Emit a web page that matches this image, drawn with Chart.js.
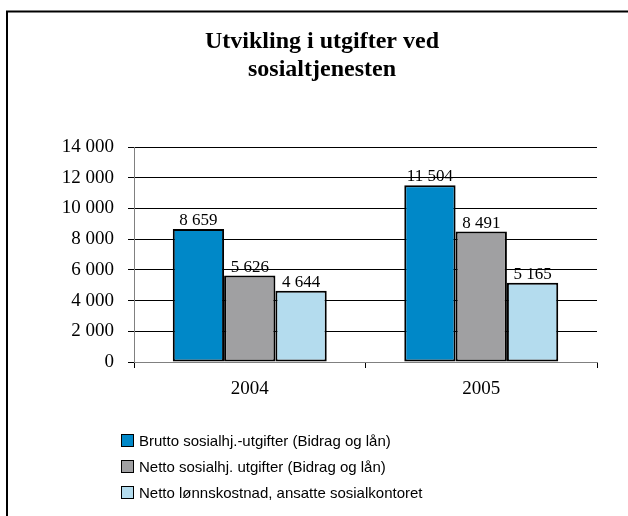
<!DOCTYPE html>
<html>
<head>
<meta charset="utf-8">
<script src="https://cdn.jsdelivr.net/npm/chart.js@4"></script>
<style>
  html, body { margin: 0; padding: 0; background: #fff; }
  #wrap { width: 628px; height: 516px; position: relative; }
</style>
</head>
<body>
<div id="wrap"><canvas id="chart" width="628" height="516"></canvas></div>
<script>
// Utgifter sosialtjenesten (1000 kr)
const years = ['2004', '2005'];
const seriesNames = [
    'Brutto sosialhj.-utgifter (Bidrag og lån)',
    'Netto sosialhj. utgifter (Bidrag og lån)',
    'Netto lønnskostnad, ansatte sosialkontoret'
];
const brutto = [8659, 11504];
const netto = [5626, 8491];
const lonn = [4644, 5165];
const seriesColors = ['#0088C8', '#A0A0A2', '#B4DCEE'];

const serif = "'Liberation Serif', 'Times New Roman', serif";
const sans = "'Liberation Sans', Arial, sans-serif";

function spaced(v) {
    return String(v).replace(/\B(?=(\d{3})+(?!\d))/g, ' ');
}

// frame round the chart (left and top edge only)
const framePlugin = {
    id: 'frame',
    beforeDraw(chart) {
        const ctx = chart.ctx;
        ctx.save();
        ctx.strokeStyle = '#000';
        ctx.lineWidth = 2;
        ctx.beginPath();
        ctx.moveTo(7, chart.height);
        ctx.lineTo(7, 11.5);
        ctx.lineTo(chart.width, 11.5);
        ctx.stroke();
        ctx.restore();
    }
};

// values above each bar
const valueLabels = {
    id: 'valueLabels',
    afterDatasetsDraw(chart) {
        const ctx = chart.ctx;
        ctx.save();
        ctx.font = '17px ' + serif;
        ctx.fillStyle = '#000';
        ctx.textAlign = 'center';
        ctx.textBaseline = 'alphabetic';
        chart.data.datasets.forEach((ds, i) => {
            chart.getDatasetMeta(i).data.forEach((bar, j) => {
                ctx.fillText(spaced(ds.data[j]), bar.x, bar.y - 4);
            });
        });
        ctx.restore();
    }
};

// vertical legend under the plot
const sideLegend = {
    id: 'sideLegend',
    afterDraw(chart) {
        const ctx = chart.ctx;
        ctx.save();
        ctx.font = '15px ' + sans;
        ctx.textBaseline = 'middle';
        chart.data.datasets.forEach((ds, i) => {
            const y = 441 + i * 26;
            ctx.fillStyle = ds.backgroundColor;
            ctx.fillRect(121.5, y - 6.5, 12, 12);
            ctx.strokeStyle = '#000';
            ctx.lineWidth = 1;
            ctx.strokeRect(121.5, y - 6.5, 12, 12);
            ctx.fillStyle = '#000';
            ctx.fillText(ds.label, 139, y + 1);
        });
        ctx.restore();
    }
};

const values = [brutto, netto, lonn];

new Chart(document.getElementById('chart'), {
    type: 'bar',
    data: {
        labels: years,
        datasets: values.map((d, i) => ({
            label: seriesNames[i],
            data: d,
            backgroundColor: seriesColors[i],
            borderColor: '#000',
            borderWidth: 2,
            borderSkipped: false,
            categoryPercentage: 0.665,
            barPercentage: 1.0
        }))
    },
    options: {
        responsive: false,
        animation: false,
        layout: {
            padding: { left: 47, right: 31, top: 0, bottom: 114 }
        },
        plugins: {
            legend: { display: false },
            tooltip: { enabled: false },
            title: {
                display: true,
                text: ['Utvikling i utgifter ved', 'sosialtjenesten'],
                color: '#000',
                font: { family: serif, size: 24, weight: 'bold', lineHeight: 1.167 },
                padding: { top: 28, bottom: 63 }
            }
        },
        scales: {
            x: {
                grid: {
                    offset: true,
                    drawOnChartArea: false,
                    drawTicks: true,
                    tickLength: 6,
                    color: '#000'
                },
                border: { color: '#808080', width: 1 },
                ticks: {
                    color: '#000',
                    padding: 10,
                    font: { family: serif, size: 19 }
                },
                afterFit(scale) { scale.height = 40; }
            },
            y: {
                min: 0,
                max: 14000,
                ticks: {
                    stepSize: 2000,
                    color: '#000',
                    padding: 14,
                    font: { family: serif, size: 19 },
                    callback: v => spaced(v)
                },
                grid: {
                    color: '#000',
                    lineWidth: 1,
                    tickLength: 6
                },
                border: { color: '#808080', width: 1 },
                afterFit(scale) { scale.width = 87; }
            }
        }
    },
    plugins: [framePlugin, valueLabels, sideLegend]
});
</script>
</body>
</html>
